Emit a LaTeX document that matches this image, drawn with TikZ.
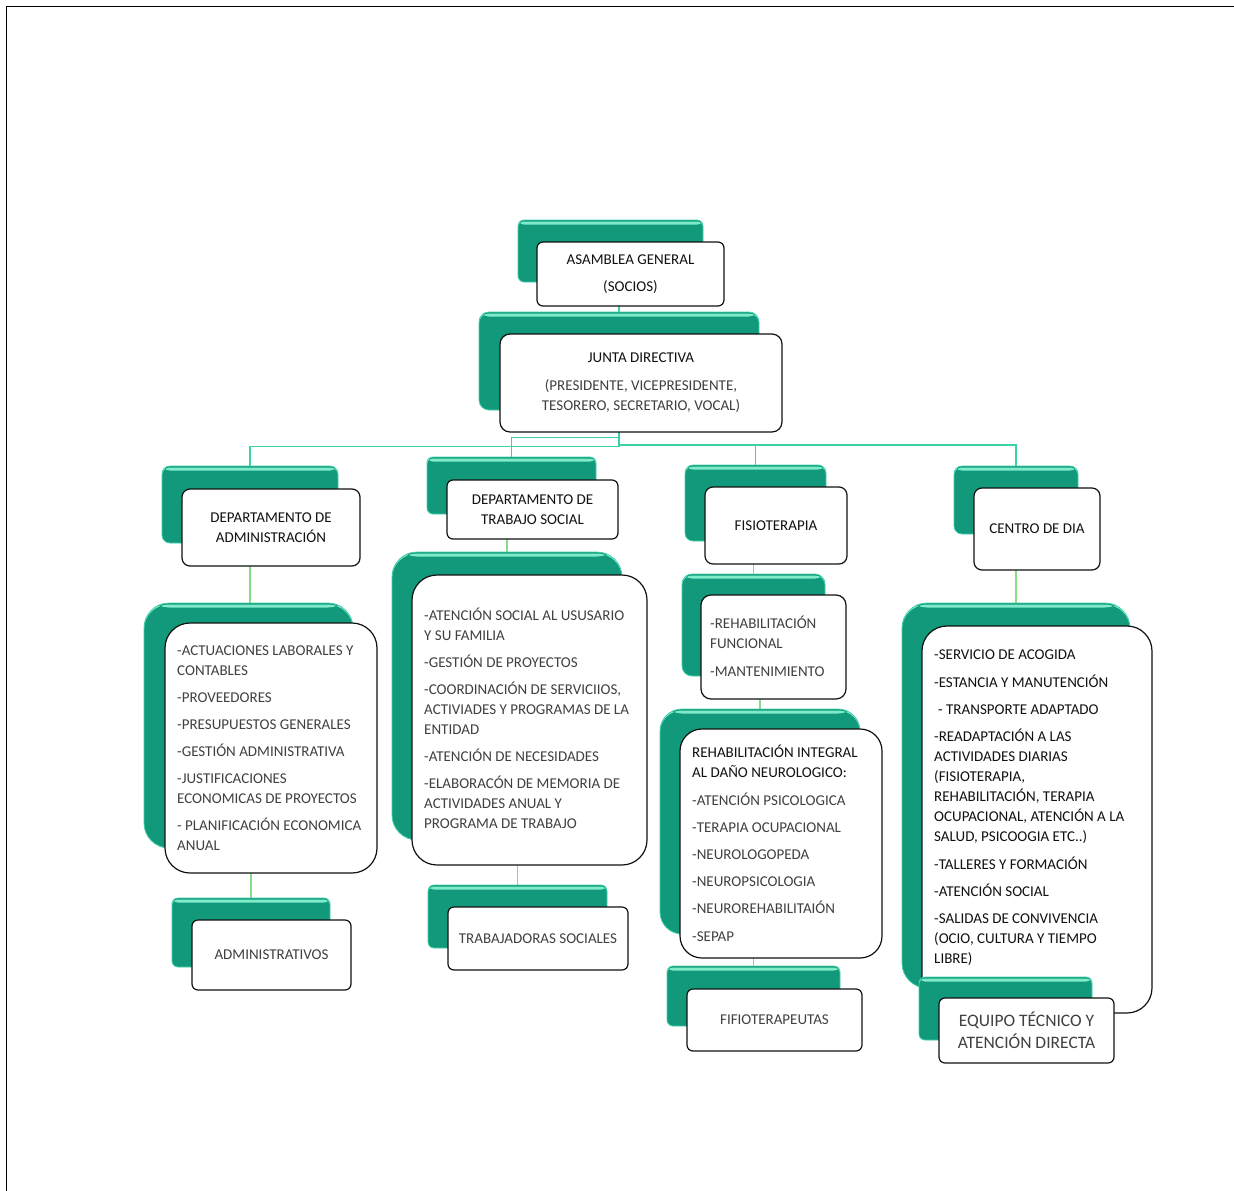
\documentclass[tikz,border=0pt]{standalone}
\usepackage{fontspec}
\setmainfont{Carlito}
\usetikzlibrary{fit,backgrounds}
\definecolor{gmain}{HTML}{12987A}
\definecolor{gedge}{HTML}{3FD2A8}
\definecolor{ghl}{HTML}{7FEBCB}
\definecolor{conA}{HTML}{3AD3A8}
\definecolor{conB}{HTML}{88DC88}
\definecolor{txg}{HTML}{404040}
\definecolor{txk}{HTML}{111111}
\begin{document}
\begin{tikzpicture}[x=1pt,y=-1pt,
  gblk/.style={fill=gmain, draw=gedge, line width=0.8pt, rounded corners=#1, inner sep=0pt, outer sep=0pt,
    path picture={\fill[ghl] ([yshift=-1.5pt]path picture bounding box.north west) rectangle ([yshift=-4.5pt]path picture bounding box.north east);}},
  gblk/.default=6pt,
  wblk/.style={fill=white, draw=txk, line width=1.2pt, rounded corners=#1, inner sep=0pt, outer sep=0pt},
  wblk/.default=6pt,
  hdr/.style={align=center, inner sep=0pt, font=\fontsize{15}{20}\selectfont, text=txk},
  lst/.style={anchor=west, align=left, inner sep=0pt, font=\fontsize{15}{20}\selectfont, text=txg},
  conn/.style={draw=conA, line width=1.6pt},
  connb/.style={draw=conB, line width=1.6pt}
]
\useasboundingbox (0,0) rectangle (1234,1191);
\draw[line width=1.8pt, black] (6.5,1191) -- (6.5,6.5) -- (1234,6.5);

% top
\node[gblk, fit={(518,220)(703,282)}] (asG) {};
\node[wblk, fit={(537,242)(724,306)}] (asW) {};
\node[hdr] (asT) at (asW.center) {ASAMBLEA GENERAL\\[7pt](SOCIOS)};
\node[gblk=10pt, fit={(479,312)(759,410)}] (juG) {};
\node[wblk=10pt, fit={(500,334)(782,432)}] (juW) {};
\node[hdr] (juT) at (juW.center) {JUNTA DIRECTIVA\\[8pt]\textcolor{txg}{(PRESIDENTE, VICEPRESIDENTE,}\\\textcolor{txg}{TESORERO, SECRETARIO, VOCAL)}};

% administracion
\node[gblk=8pt, fit={(162,466)(338,543)}] (admG) {};
\node[wblk=8pt, fit={(182,489)(360,566)}] (admW) {};
\node[hdr] (admT) at (admW.center) {DEPARTAMENTO DE\\ADMINISTRACIÓN};
\node[gblk=25pt, fit={(144,603)(353,848)}] (alG) {};
\node[wblk=25pt, fit={(165,623)(377,873)}] (alW) {};
\node[lst] (alT) at (177,748) {-ACTUACIONES LABORALES Y\\CONTABLES\\[7pt]-PROVEEDORES\\[7pt]-PRESUPUESTOS GENERALES\\[7pt]-GESTIÓN ADMINISTRATIVA\\[7pt]-JUSTIFICACIONES\\ECONOMICAS DE PROYECTOS\\[7pt]- PLANIFICACIÓN ECONOMICA\\ANUAL};
\node[gblk, fit={(172,898)(330,967)}] (aaG) {};
\node[wblk, fit={(192,920)(351,990)}] (aaW) {};
\node[hdr, text=txg] (aaT) at (aaW.center) {ADMINISTRATIVOS};

% trabajo social
\node[gblk, fit={(427,457)(596,514)}] (tsG) {};
\node[wblk, fit={(447,480)(618,539)}] (tsW) {};
\node[hdr] (tsT) at (tsW.center) {DEPARTAMENTO DE\\TRABAJO SOCIAL};
\node[gblk=25pt, fit={(392,552)(622,840)}] (tlG) {};
\node[wblk=25pt, fit={(412,575)(647,865)}] (tlW) {};
\node[lst] (tlT) at (424,718.5) {-ATENCIÓN SOCIAL AL USUSARIO\\Y SU FAMILIA\\[7pt]-GESTIÓN DE PROYECTOS\\[7pt]-COORDINACIÓN DE SERVICIIOS,\\ACTIVIADES Y PROGRAMAS DE LA\\ENTIDAD\\[7pt]-ATENCIÓN DE NECESIDADES\\[7pt]-ELABORACÓN DE MEMORIA DE\\ACTIVIDADES ANUAL Y\\PROGRAMA DE TRABAJO};
\node[gblk, fit={(428,885)(607,948)}] (trG) {};
\node[wblk, fit={(448,907)(628,970)}] (trW) {};
\node[hdr, text=txg] (trT) at (trW.center) {TRABAJADORAS SOCIALES};

% fisioterapia
\node[gblk=8pt, fit={(685,465)(826,541)}] (fiG) {};
\node[wblk=8pt, fit={(705,487)(847,564)}] (fiW) {};
\node[hdr] (fiT) at (fiW.center) {FISIOTERAPIA};
\node[gblk=10pt, fit={(682,574)(825,676)}] (f1G) {};
\node[wblk=10pt, fit={(701,595)(846,699)}] (f1W) {};
\node[lst] (f1T) at (710,646) {-REHABILITACIÓN\\FUNCIONAL\\[8pt]-MANTENIMIENTO};
\node[gblk=22pt, fit={(660,709)(860,934)}] (f2G) {};
\node[wblk=22pt, fit={(680,729)(882,958)}] (f2W) {};
\node[lst] (f2T) at (692,843) {\textcolor{txk}{REHABILITACIÓN INTEGRAL}\\\textcolor{txk}{AL DAÑO NEUROLOGICO:}\\[8pt]-ATENCIÓN PSICOLOGICA\\[7pt]-TERAPIA OCUPACIONAL\\[7pt]-NEUROLOGOPEDA\\[7pt]-NEUROPSICOLOGIA\\[7pt]-NEUROREHABILITAIÓN\\[8pt]-SEPAP};
\node[gblk, fit={(667,966)(840,1026)}] (ffG) {};
\node[wblk, fit={(687,989)(862,1051)}] (ffW) {};
\node[hdr, text=txg] (ffT) at (ffW.center) {FIFIOTERAPEUTAS};

% centro de dia
\node[gblk=8pt, fit={(954,466)(1078,534)}] (ceG) {};
\node[wblk=8pt, fit={(974,488)(1100,570)}] (ceW) {};
\node[hdr] (ceT) at (ceW.center) {CENTRO DE DIA};
\node[gblk=25pt, fit={(902,603)(1130,988)}] (clG) {};
\node[wblk=25pt, fit={(922,626)(1152,1013)}] (clW) {};
\node[lst, text=txk] (clT) at (934,808) {-SERVICIO DE ACOGIDA\\[8pt]-ESTANCIA Y MANUTENCIÓN\\[7pt]\hspace{4pt}- TRANSPORTE ADAPTADO\\[7pt]-READAPTACIÓN A LAS\\ACTIVIDADES DIARIAS\\(FISIOTERAPIA,\\REHABILITACIÓN, TERAPIA\\OCUPACIONAL, ATENCIÓN A LA\\SALUD, PSICOOGIA ETC..)\\[8pt]-TALLERES Y FORMACIÓN\\[7pt]-ATENCIÓN SOCIAL\\[7pt]-SALIDAS DE CONVIVENCIA\\(OCIO, CULTURA Y TIEMPO\\LIBRE)};
\node[gblk, fit={(919,977)(1092,1040)}] (eqG) {};
\node[wblk, fit={(939,998)(1114,1063)}] (eqW) {};
\node[hdr, text=txg, font=\fontsize{17.5}{22}\selectfont] (eqT) at (eqW.center) {EQUIPO TÉCNICO Y\\ATENCIÓN DIRECTA};

% connectors
\begin{scope}[on background layer]
\draw[conn] (juG.north |- asW.south) -- (juG.north);
\draw[conn] (juG.north |- juW.south) -- ++(0,14.5) -| (admG.north);
\draw[conn] (juG.north |- juW.south) -- ++(0,5.3) -| (tsG.north);
\draw[conn] (juG.north |- juW.south) -- ++(0,13) -| (fiG.north);
\draw[conn] (juG.north |- juW.south) -- ++(0,13) -| (ceG.north);
\draw[connb] (admG.center |- admW.south) -- (admG.center |- alG.north);
\draw[connb] (aaG.north |- alW.south) -- (aaG.north);
\draw[connb] (tlG.north |- tsW.south) -- (tlG.north);
\draw[connb] (trG.north |- tlW.south) -- (trG.north);
\draw[connb] (f1G.north |- fiW.south) -- (f1G.north);
\draw[connb] (f2G.north |- f1W.south) -- (f2G.north);
\draw[connb] (ffG.north |- f2W.south) -- (ffG.north);
\draw[connb] (clG.north |- ceW.south) -- (clG.north);
\end{scope}
\end{tikzpicture}
\end{document}
